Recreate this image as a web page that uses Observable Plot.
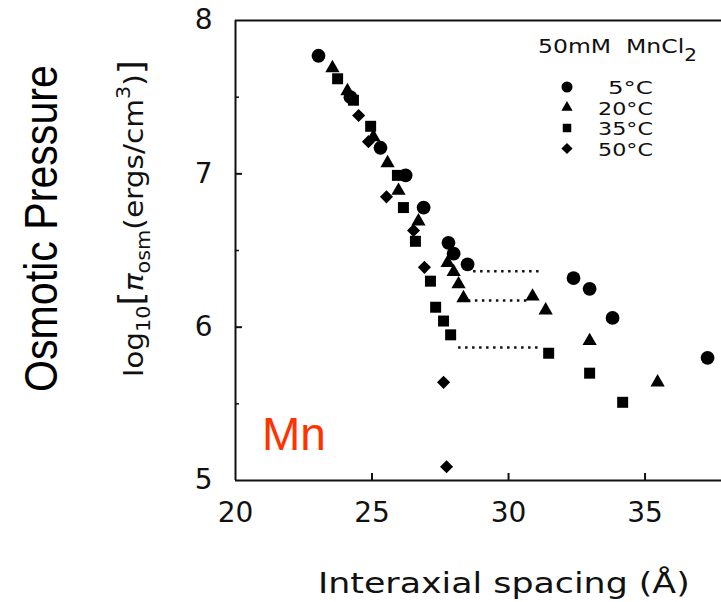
<!DOCTYPE html>
<html><head><meta charset="utf-8">
<script src="https://cdn.jsdelivr.net/npm/d3@7"></script>
<script src="https://cdn.jsdelivr.net/npm/@observablehq/plot@0.6"></script>
<style>body{margin:0;background:#fff;} #chart{width:721px;height:602px;}</style>
</head><body><div id="chart"></div>
<script>
// ---- data ----
const seriesNames = ["5°C", "20°C", "35°C", "50°C"];
const seriesSymbols = ["circle", "triangle", "square", "diamond2"];

const x5  = [23.04, 24.21, 25.31, 26.23, 26.89, 27.80, 27.99, 28.50, 32.38, 32.97, 33.81, 37.29];
const y5  = [7.77, 7.50, 7.17, 6.99, 6.78, 6.55, 6.48, 6.41, 6.32, 6.25, 6.06, 5.80];

const x20 = [23.55, 24.10, 25.05, 25.57, 25.97, 26.70, 27.77, 27.99, 28.17, 28.35, 30.88, 31.36, 32.97, 35.46];
const y20 = [7.69, 7.54, 7.24, 7.07, 6.89, 6.69, 6.42, 6.36, 6.28, 6.19, 6.20, 6.11, 5.91, 5.64];

const x35 = [23.74, 24.32, 24.95, 25.93, 26.15, 26.59, 27.14, 27.33, 27.62, 27.88, 31.47, 32.97, 34.18];
const y35 = [7.62, 7.48, 7.31, 6.99, 6.78, 6.56, 6.30, 6.13, 6.04, 5.95, 5.83, 5.70, 5.51];

const x50 = [24.51, 24.87, 25.53, 26.52, 26.92, 27.62, 27.73];
const y50 = [7.38, 7.21, 6.85, 6.63, 6.39, 5.64, 5.09];

// dotted transition lines
const dotX1 = [28.72, 28.53, 28.17];
const dotX2 = [31.17, 30.70, 31.10];
const dotY  = [6.365, 6.174, 5.867];

const xTicks = [20, 25, 30, 35];
const yTicks = [5, 6, 7, 8];
const yMinor = [5.5, 6.5, 7.5];
const xInner = [25, 30, 35];
const yInner = [6, 7];

// ---- build ----
const pts = (xs, ys) => xs.map((x, i) => ({x, y: ys[i]}));
const segs = dotY.map((y, i) => ({y, x1: dotX1[i], x2: dotX2[i]}));

const W = 721, H = 602, ML = 235, MR = 0, MT = 20, MB = 122;
const fw = W - ML - MR, fh = H - MT - MB;
const ink = "#111";

const chart = Plot.plot({
  width: W, height: H,
  marginLeft: ML, marginRight: MR, marginTop: MT, marginBottom: MB,
  x: {domain: [20, 37.8]},
  y: {domain: [5, 8]},
  style: {fontFamily: "'DejaVu Sans'", color: ink, background: "#fff", overflow: "visible"},
  marks: [
    Plot.axisX(xTicks, {tickSize: 0, tickPadding: 22, fontSize: 28, label: null, tickFormat: d3.format("d")}),
    Plot.axisY(yTicks, {tickSize: 0, tickPadding: 23, fontSize: 28, label: null, tickFormat: d3.format("d")}),
    Plot.ruleX([20], {stroke: ink, strokeWidth: 2}),
    Plot.ruleY([5, 8], {stroke: ink, strokeWidth: 2}),
    Plot.tickY(yInner, {y: d => d, insetRight: fw - 7, stroke: ink, strokeWidth: 2}),
    Plot.tickY(yMinor, {y: d => d, insetRight: fw - 4, stroke: ink, strokeWidth: 1.5}),
    Plot.tickX(xInner, {x: d => d, insetTop: fh - 7, stroke: ink, strokeWidth: 2}),
    Plot.ruleY(segs, {y: "y", x1: "x1", x2: "x2", stroke: ink, strokeWidth: 2.5, strokeDasharray: "2.5,4.5"}),
    Plot.dot(pts(x50, y50), {x: "x", y: "y", symbol: seriesSymbols[3], r: 5.9, fill: "#000", stroke: null}),
    Plot.dot(pts(x35, y35), {x: "x", y: "y", symbol: seriesSymbols[2], r: 6.2, fill: "#000", stroke: null}),
    Plot.dot(pts(x20, y20), {x: "x", y: "y", symbol: seriesSymbols[1], r: 5.3, fill: "#000", stroke: null}),
    Plot.dot(pts(x5, y5),   {x: "x", y: "y", symbol: seriesSymbols[0], r: 6.9, fill: "#000", stroke: null})
  ]
});
document.getElementById("chart").appendChild(chart);

const svg = d3.select(chart);

function fitText(sel, target, tx, ty, rot) {
  const len = sel.node().getComputedTextLength();
  const k = target / len;
  sel.attr("transform", `translate(${tx},${ty})${rot ? " rotate(" + rot + ")" : ""} scale(${k},1)`);
}

// "Osmotic Pressure"
const op = svg.append("text")
  .attr("text-anchor", "start")
  .attr("font-family", "'Liberation Sans', Arial, sans-serif")
  .attr("font-size", 46).attr("fill", "#000")
  .text("Osmotic Pressure");
fitText(op, 327, 57, 392, -90);

// y-axis label: log10[π_osm(ergs/cm^3)]
const yl = svg.append("text")
  .attr("text-anchor", "start")
  .attr("font-family", "'DejaVu Sans'").attr("font-size", 27).attr("fill", ink);
yl.append("tspan").text("log");
yl.append("tspan").attr("font-size", 19).attr("dy", 7).text("10");
yl.append("tspan").attr("dy", -7).attr("font-size", 33).text("[");
yl.append("tspan").attr("font-style", "italic").text("π");
yl.append("tspan").attr("font-size", 19).attr("dy", 7).text("osm");
yl.append("tspan").attr("dy", -7).text("(ergs/cm");
yl.append("tspan").attr("font-size", 19).attr("dy", -13).text("3");
yl.append("tspan").attr("dy", 13).text(")");
yl.append("tspan").attr("font-size", 33).text("]");
fitText(yl, 317, 143, 377, -90);

// x-axis label
const xl = svg.append("text")
  .attr("text-anchor", "start")
  .attr("font-family", "'DejaVu Sans'").attr("font-size", 29).attr("fill", ink)
  .text("Interaxial spacing (Å)");
fitText(xl, 372, 318, 593, 0);

// legend title
const lt = svg.append("text")
  .attr("text-anchor", "start")
  .attr("font-family", "'DejaVu Sans'").attr("font-size", 20).attr("fill", ink);
lt.append("tspan").text("50mM\u00a0\u00a0MnCl");
lt.append("tspan").attr("font-size", 17).attr("dy", 8).text("2");
fitText(lt, 159, 538, 53, 0);

// legend entries
const legendSizes = [95, 55, 72, 80];
const rowY = [87, 107.5, 128, 148.5];
const rowW = [45, 55, 55, 55];
seriesNames.forEach((name, i) => {
  const sym = {circle: d3.symbolCircle, triangle: d3.symbolTriangle, square: d3.symbolSquare, diamond2: d3.symbolDiamond2}[seriesSymbols[i]];
  svg.append("path")
    .attr("d", d3.symbol(sym, legendSizes[i])())
    .attr("transform", `translate(567,${rowY[i]})`)
    .attr("fill", "#000");
  const t = svg.append("text")
    .attr("font-family", "'DejaVu Sans'").attr("font-size", 17.5).attr("fill", ink)
    .attr("text-anchor", "end")
    .text(name);
  fitText(t, rowW[i], 653, rowY[i] + 7, 0);
});

// "Mn" annotation
svg.append("text")
  .attr("text-anchor", "start")
  .attr("font-family", "'Liberation Sans', Arial, sans-serif")
  .attr("font-size", 46).attr("fill", "#ff3300")
  .attr("x", 262).attr("y", 450)
  .text("Mn");
</script>
</body></html>
